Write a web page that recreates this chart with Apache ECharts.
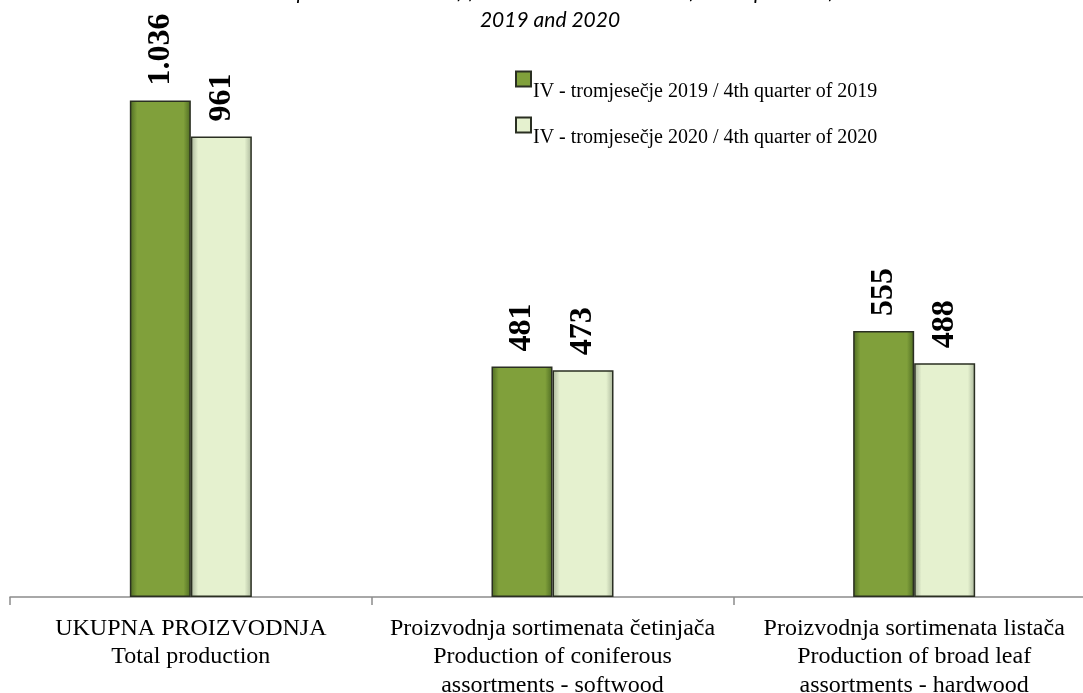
<!DOCTYPE html>
<html>
<head>
<meta charset="utf-8">
<script src="https://cdn.jsdelivr.net/npm/echarts@6/dist/echarts.min.js"></script>
<style>
html,body{margin:0;padding:0;background:#fff;}
#chart{width:1083px;height:693px;}
</style>
</head>
<body>
<div id="chart"></div>
<script>
const categories = [
  'UKUPNA PROIZVODNJA\nTotal production',
  'Proizvodnja sortimenata četinjača\nProduction of coniferous\nassortments - softwood',
  'Proizvodnja sortimenata listača\nProduction of broad leaf\nassortments - hardwood'
];
const seriesNames = [
  'IV - tromjesečje 2019 / 4th quarter of 2019',
  'IV - tromjesečje 2020 / 4th quarter of 2020'
];
const values2019 = [1036, 481, 555];
const values2020 = [961, 473, 488];
const titleText = 'Graph 1. Production of forest assortments in the fourth quarter of\n2019 and 2020';

function fmt(v){
  return v >= 1000 ? Math.floor(v/1000) + '.' + String(v%1000).padStart(3,'0') : String(v);
}

function grad(edge, mid){
  return new echarts.graphic.LinearGradient(0,0,1,0,[
    {offset:0, color:edge},
    {offset:0.12, color:mid},
    {offset:0.88, color:mid},
    {offset:1, color:edge}
  ]);
}

const chart = echarts.init(document.getElementById('chart'));
const labelCfg = {
  show: true,
  position: 'top',
  rotate: 90,
  align: 'left',
  verticalAlign: 'middle',
  distance: 15,
  fontFamily: 'Liberation Serif',
  fontWeight: 'bold',
  fontSize: 32,
  color: '#000',
  formatter: p => fmt(p.value)
};
chart.setOption({
  animation: false,
  title: {
    text: titleText,
    left: 545,
    textAlign: 'center',
    top: -27,
    textStyle: {
      fontFamily: 'Lato',
      fontStyle: 'italic',
      fontWeight: 'normal',
      fontSize: 21,
      lineHeight: 28,
      color: '#000'
    }
  },
  legend: {
    orient: 'vertical',
    left: 515,
    top: 56,
    padding: 0,
    itemWidth: 15,
    itemHeight: 15,
    itemGap: 0,
    icon: 'rect',
    formatter: name => '{a|' + name + '}',
    textStyle: {
      color: '#000',
      rich: {
        a: {
          fontFamily: 'Liberation Serif',
          fontSize: 20,
          lineHeight: 20,
          padding: [26, 0, 0, -3],
          color: '#000'
        }
      }
    },
    data: seriesNames
  },
  grid: {
    left: 10,
    width: 1085,
    top: 22,
    bottom: 96,
    containLabel: false,
    outerBoundsMode: 'none'
  },
  xAxis: {
    type: 'category',
    data: categories,
    axisLine: { lineStyle: { color: '#8c8c8c', width: 1.5 } },
    axisTick: { show: true, length: 8, lineStyle: { color: '#8c8c8c', width: 1.5 } },
    axisLabel: {
      interval: 0,
      margin: 17,
      fontFamily: 'Liberation Serif',
      fontSize: 24,
      lineHeight: 28.5,
      color: '#000'
    }
  },
  yAxis: {
    type: 'value',
    min: 0,
    max: 1200,
    show: false,
    splitLine: { show: false }
  },
  series: [
    {
      name: seriesNames[0],
      type: 'bar',
      data: values2019,
      barWidth: 61,
      barGap: '0%',
      itemStyle: {
        color: grad('#4d6a22', '#80a03b'),
        borderColor: '#2a2f22',
        borderWidth: 1.5
      },
      label: labelCfg
    },
    {
      name: seriesNames[1],
      type: 'bar',
      data: values2020,
      barWidth: 61,
      itemStyle: {
        color: grad('#a9b59a', '#e5f1cf'),
        borderColor: '#2a2f22',
        borderWidth: 1.5
      },
      label: labelCfg
    }
  ]
});
</script>
</body>
</html>
